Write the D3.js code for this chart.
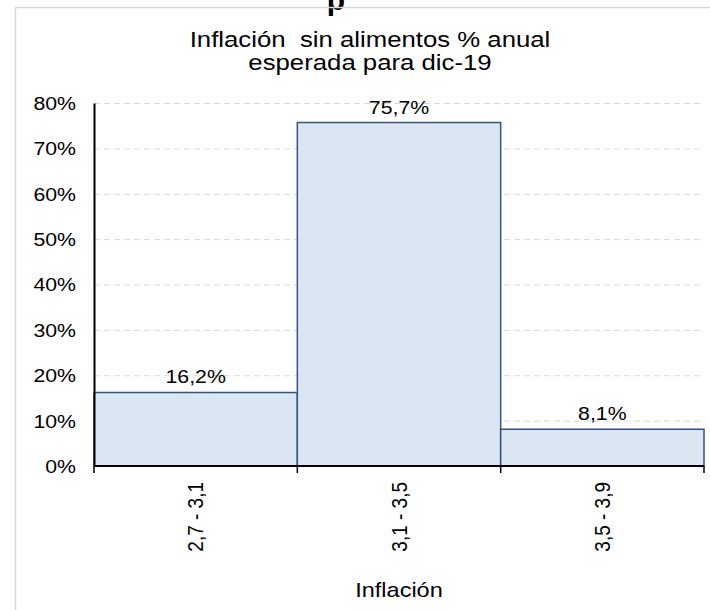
<!DOCTYPE html>
<html>
<head>
<meta charset="utf-8">
<script src="https://cdn.jsdelivr.net/npm/d3@7"></script>
<style>
  body { margin: 0; background: #fff; }
  svg text { font-family: 'Liberation Sans', Arial, sans-serif; fill: #000; white-space: pre; }
</style>
</head>
<body>
<div id="container"></div>
<script>
const categories = ['2,7 - 3,1', '3,1 - 3,5', '3,5 - 3,9'];
const values = [16.2, 75.7, 8.1];
const yTicks = [0, 10, 20, 30, 40, 50, 60, 70, 80];
const titleLines = ['Inflación  sin alimentos % anual', 'esperada para dic-19'];
const xTitle = 'Inflación';

const width = 710, height = 610;
const margin = { left: 94, right: 6, top: 103, bottom: 144 };
const stretch = 1.12;  // the text in the picture is a bit wider than tall

const svg = d3.select('#container')
    .append('svg')
    .attr('width', width)
    .attr('height', height);

// place a text at (x, y) with the horizontal stretch
const place = (sel, fx, fy, extra = '') =>
    sel.attr('transform', (d, i) => `translate(${fx(d, i)},${fy(d, i)}) scale(${stretch},1)${extra}`);

// clipped heading from the slide above
svg.append('text')
    .text('p')
    .attr('x', 336)
    .attr('y', 10)
    .attr('text-anchor', 'middle')
    .style('font-size', '30px')
    .style('font-weight', 700);

// chart frame
svg.append('rect')
    .attr('x', 15.5)
    .attr('y', 7.5)
    .attr('width', width)
    .attr('height', height)
    .attr('fill', 'none')
    .attr('stroke', '#d9d9d9')
    .attr('stroke-width', 1.5);

// title
svg.append('g')
    .selectAll('text')
    .data(titleLines)
    .join('text')
    .attr('text-anchor', 'middle')
    .style('font-size', '23px')
    .text(d => d)
    .call(place, () => 370, (d, i) => 47 + i * 23);

const x = d3.scaleBand()
    .domain(categories)
    .range([margin.left, width - margin.right])
    .padding(0);

const y = d3.scaleLinear()
    .domain([0, 80])
    .range([height - margin.bottom, margin.top]);

// gridlines
svg.append('g')
    .selectAll('line')
    .data(yTicks.slice(1))
    .join('line')
    .attr('x1', margin.left)
    .attr('x2', width - margin.right)
    .attr('y1', d => y(d) + 0.5)
    .attr('y2', d => y(d) + 0.5)
    .attr('stroke', '#d9d9d9')
    .attr('stroke-width', 1)
    .attr('stroke-dasharray', '6,4');

// bars
svg.append('g')
    .selectAll('rect')
    .data(values)
    .join('rect')
    .attr('x', (d, i) => x(categories[i]))
    .attr('y', d => y(d))
    .attr('width', x.bandwidth())
    .attr('height', d => y(0) - y(d))
    .attr('fill', '#dce6f2')
    .attr('stroke', '#2e5389')
    .attr('stroke-width', 1.5);

// value labels
svg.append('g')
    .selectAll('text')
    .data(values)
    .join('text')
    .attr('text-anchor', 'middle')
    .style('font-size', '19px')
    .text(d => d.toFixed(1).replace('.', ',') + '%')
    .call(place, (d, i) => x(categories[i]) + x.bandwidth() / 2, d => y(d) - 9);

// y axis
const yAxis = svg.append('g')
    .attr('transform', `translate(${margin.left},0)`)
    .call(d3.axisLeft(y).tickValues(yTicks).tickSize(0).tickPadding(0).tickFormat(d => d + '%'));
yAxis.select('.domain').attr('stroke', '#000').attr('stroke-width', 2);
yAxis.selectAll('.tick text')
    .style('font-size', '19px')
    .attr('fill', '#000')
    .attr('x', null)
    .attr('dy', '0.34em')
    .attr('transform', `translate(-18,0) scale(${stretch},1)`);

// x axis
const boundaries = categories.map(c => x(c)).concat([x(categories[categories.length - 1]) + x.bandwidth()]);
const xAxis = svg.append('g')
    .attr('transform', `translate(0,${y(0)})`);
xAxis.append('line')
    .attr('x1', margin.left)
    .attr('x2', width - margin.right)
    .attr('stroke', '#000')
    .attr('stroke-width', 2);
xAxis.selectAll('.tick')
    .data(boundaries)
    .join('line')
    .attr('class', 'tick')
    .attr('x1', d => d)
    .attr('x2', d => d)
    .attr('y1', 0)
    .attr('y2', 7)
    .attr('stroke', '#000')
    .attr('stroke-width', 1.5);
xAxis.selectAll('.cat')
    .data(categories)
    .join('text')
    .attr('class', 'cat')
    .attr('text-anchor', 'end')
    .style('font-size', '19px')
    .text(d => d)
    .call(place, d => x(d) + x.bandwidth() / 2 + 7.5, () => 16, ' rotate(-90)');

// x title
svg.append('text')
    .attr('text-anchor', 'middle')
    .style('font-size', '21px')
    .text(xTitle)
    .call(place, () => x(categories[1]) + x.bandwidth() / 2, () => 597);
</script>
</body>
</html>
